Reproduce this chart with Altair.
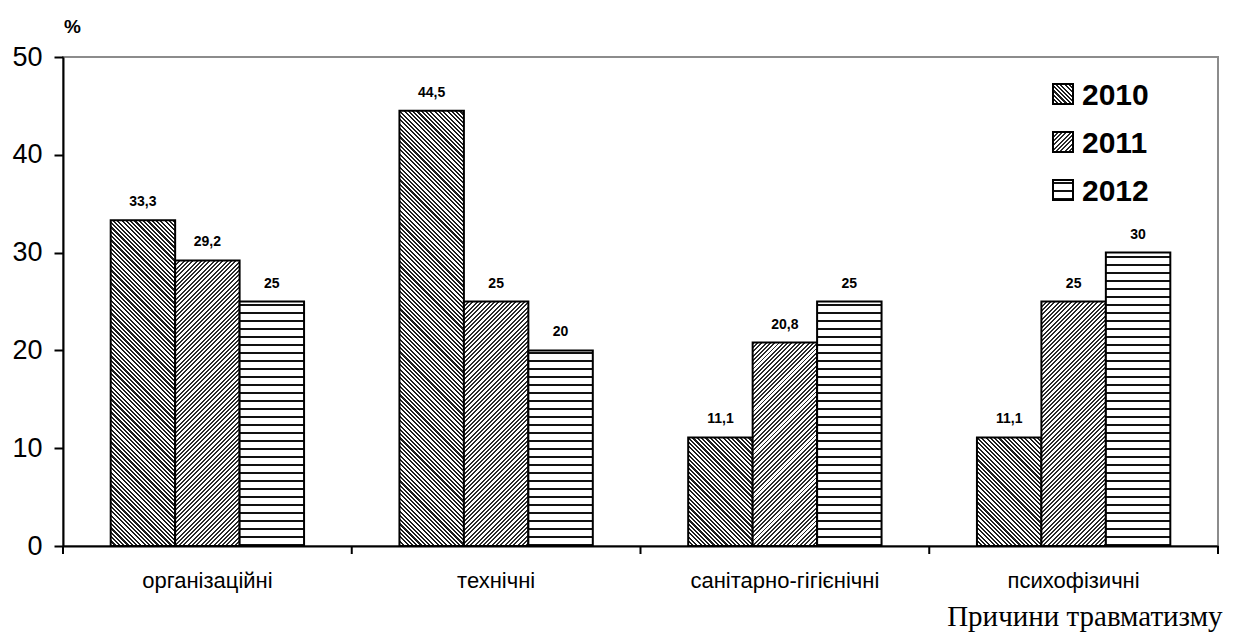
import math
import pandas as pd
import altair as alt

# ---- data ----
categories = ["організаційні", "технічні", "санітарно-гігієнічні", "психофізичні"]
years = ["2010", "2011", "2012"]
v2010 = [33.3, 44.5, 11.1, 11.1]
v2011 = [29.2, 25, 20.8, 25]
v2012 = [25, 20, 25, 30]
y_ticks = [0, 10, 20, 30, 40, 50]

series = {"2010": v2010, "2011": v2011, "2012": v2012}
rows = []
for yr in years:
    for c, v in zip(categories, series[yr]):
        lab = ("%g" % v).replace(".", ",")
        rows.append({"cat": c, "year": yr, "value": v, "label": lab})
df = pd.DataFrame(rows)

# ---- layout / style ----
W, H = 1155, 489
YMAX = 50
PAD_OUT = 0.74
SANS = "Liberation Sans, Arial, sans-serif"
SERIF = "Liberation Serif, Times New Roman, serif"
BAR_W = (W / len(categories)) / (len(years) + 2 * PAD_OUT)
PX_PER_UNIT = H / YMAX

DIAG_STEP = 4.3   # pixel step along x of diagonal hatch
HOR_STEP = 8      # pixel period of horizontal hatch
HOR_DARK = 2      # pixel thickness of horizontal hatch line


def make_stops(total, period, dark_len, dark, light):
    """Stripes measured in pixels along a gradient of `total` pixels."""
    res = []
    pos = 0.0
    while pos < total:
        s = pos / total
        e = min((pos + dark_len) / total, 1.0)
        f = min((pos + period) / total, 1.0)
        res += [
            alt.GradientStop(offset=round(s, 5), color=dark),
            alt.GradientStop(offset=round(e, 5), color=dark),
            alt.GradientStop(offset=round(e, 5), color=light),
            alt.GradientStop(offset=round(f, 5), color=light),
        ]
        pos += period
    return res


def hatch(year, w, h):
    if year == "2010":  # "\" lines
        k = (w + h) / (w * w + h * h)
        return alt.LinearGradient(gradient="linear", x1=0, y1=1, x2=k * w, y2=1 - k * h,
                                  stops=make_stops(w + h, DIAG_STEP, DIAG_STEP * 0.5,
                                                   "#1e1e1e", "#ffffff"))
    if year == "2011":  # "/" lines
        k = (w + h) / (w * w + h * h)
        return alt.LinearGradient(gradient="linear", x1=0, y1=0, x2=k * w, y2=k * h,
                                  stops=make_stops(w + h, DIAG_STEP, DIAG_STEP * 0.45,
                                                   "#2a2a2a", "#ffffff"))
    # horizontal lines, counted from the bottom of the bar
    return alt.LinearGradient(gradient="linear", x1=0, y1=1, x2=0, y2=0,
                              stops=make_stops(h, HOR_STEP, HOR_DARK, "#111111", "#ffffff"))


x_axis = alt.Axis(ticks=False, tickSize=0, domainColor="black", domainWidth=2,
                  labelFontSize=22, labelFont=SANS, labelColor="black", labelPadding=41,
                  labelBaseline="alphabetic", labelAngle=0, labelLimit=500,
                  title="Причини травматизму", titleFont=SERIF, titleFontSize=29,
                  titleFontWeight="normal", titleColor="black", titleX=1222 - 63,
                  titleY=625 - 546, titleAlign="right", titleBaseline="alphabetic")

y_axis = alt.Axis(values=y_ticks, grid=False, tickSize=9, tickWidth=2, tickColor="black",
                  domainColor="black", domainWidth=2, labelFontSize=27, labelFont=SANS,
                  labelColor="black", labelPadding=12,
                  title="%", titleAngle=0, titleFontSize=19, titleFontWeight="bold",
                  titleFont=SANS, titleColor="black", titleX=9, titleY=-25,
                  titleAlign="center", titleBaseline="alphabetic")

x_scale = alt.Scale(domain=categories, paddingInner=0, paddingOuter=0)


def X(**kw):
    return alt.X("cat:N", sort=categories, scale=x_scale, axis=x_axis, **kw)


XO = alt.XOffset("year:N", sort=years,
                 scale=alt.Scale(domain=years, paddingInner=0, paddingOuter=PAD_OUT))
Y = alt.Y("value:Q", scale=alt.Scale(domain=[0, YMAX], nice=False), axis=y_axis)

base = alt.Chart(df)
layers = []
for _, r in df.iterrows():
    h = r["value"] * PX_PER_UNIT
    layers.append(
        base.transform_filter((alt.datum.cat == r["cat"]) & (alt.datum.year == r["year"]))
        .mark_bar(fill=hatch(r["year"], BAR_W, h), stroke="black", strokeWidth=2)
        .encode(x=X(), xOffset=XO, y=Y)
    )

labels = base.mark_text(dy=-14, baseline="alphabetic", fontWeight="bold", fontSize=14,
                        font=SANS, color="black").encode(x=X(), xOffset=XO, y=Y, text="label:N")
layers.append(labels)

cat_df = pd.DataFrame({"cat": categories})
ticks0 = alt.Chart(cat_df).mark_rule(stroke="black", strokeWidth=2).encode(
    x=X(bandPosition=0), y=alt.value(H), y2=alt.value(H + 8))
ticks1 = alt.Chart(cat_df).transform_filter(alt.datum.cat == categories[-1]).mark_rule(
    stroke="black", strokeWidth=2).encode(x=X(bandPosition=1), y=alt.value(H), y2=alt.value(H + 8))
layers += [ticks0, ticks1]

# legend
LX, LY, LSTEP, LS = 1053 - 63, 84 - 57, 48, 20
for i, yr in enumerate(years):
    ldf = pd.DataFrame({"year": [yr]})
    layers.append(
        alt.Chart(ldf).mark_rect(fill=hatch(yr, LS, LS), stroke="black", strokeWidth=2).encode(
            x=alt.value(LX), x2=alt.value(LX + LS),
            y=alt.value(LY + i * LSTEP), y2=alt.value(LY + i * LSTEP + LS))
    )
    layers.append(
        alt.Chart(ldf).mark_text(align="left", baseline="alphabetic", fontSize=30,
                                 fontWeight="bold", font=SANS, color="black").encode(
            x=alt.value(1082 - 63), y=alt.value(105 - 57 + i * LSTEP), text="year:N")
    )

chart = alt.layer(*layers).properties(
    width=W, height=H,
    autosize=alt.AutoSizeParams(type="none"),
    padding={"left": 63, "top": 57, "right": 31, "bottom": 87},
    background="white",
).configure_view(stroke="#8c8c8c", strokeWidth=2)

chart.save("out.html", embed_options={"renderer": "svg", "actions": False})
